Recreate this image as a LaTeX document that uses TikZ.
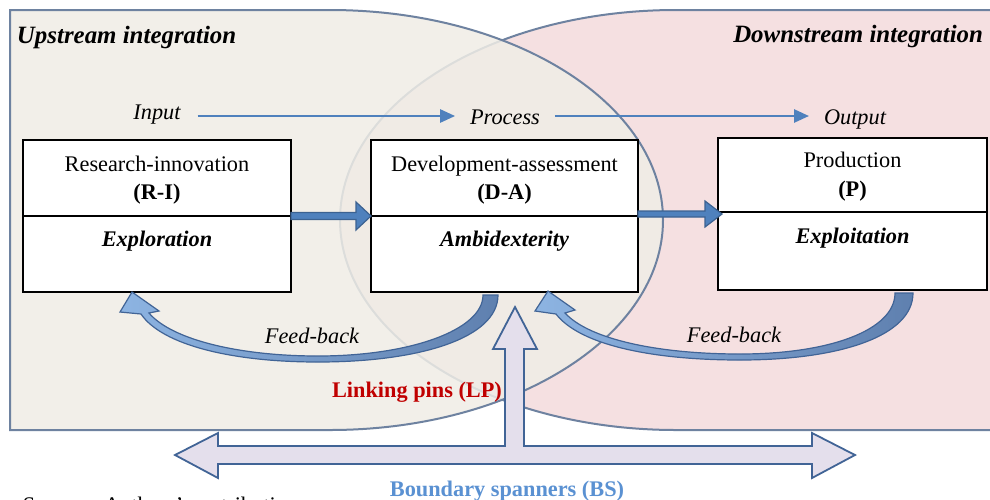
\documentclass[tikz,border=0pt]{standalone}
\usepackage{fontspec}
\setmainfont{Liberation Serif}
\usetikzlibrary{arrows.meta,calc}

\definecolor{beigefill}{RGB}{240,237,230}
\definecolor{pinkfill}{RGB}{245,224,225}
\definecolor{regionline}{RGB}{110,130,160}
\definecolor{flowblue}{RGB}{79,129,189}
\definecolor{flowdark}{RGB}{60,98,145}
\definecolor{fblight}{RGB}{141,180,226}
\definecolor{fbdark}{RGB}{95,128,175}
\definecolor{fbline}{RGB}{65,100,150}
\definecolor{spanfill}{RGB}{228,223,236}
\definecolor{spanline}{RGB}{65,100,150}
\definecolor{lpred}{RGB}{192,0,0}
\definecolor{bsblue}{RGB}{90,145,210}

\newcommand\diagsize{\fontsize{11.15}{13}\selectfont}
\newcommand\headsize{\fontsize{12.45}{14}\selectfont}

\begin{document}
\begin{tikzpicture}[x=0.5pt,y=-0.5pt,
  every node/.style={inner sep=0pt, outer sep=0pt},
  lbl/.style={font=\diagsize},
  lblbf/.style={font=\diagsize\bfseries},
  lblbi/.style={font=\diagsize\bfseries\itshape},
  lblit/.style={font=\diagsize\itshape},
  headline/.style={font=\headsize\bfseries\itshape},
  region/.style={draw=regionline, line width=1pt},
  box/.style={draw=black, line width=0.6pt, fill=white, anchor=north west,
              minimum height=76pt},
  divider/.style={draw=black, line width=0.6pt},
  flow/.style={draw=flowblue, line width=1.3pt,
               -{Triangle[length=7.5pt,width=6.5pt]}},
  blockarrow/.style={fill=flowblue, draw=flowdark, line width=0.6pt},
  feedback/.style={left color=fblight, right color=fbdark, draw=fbline,
                   line width=0.6pt},
  spanarrow/.style={fill=spanfill, draw=spanline, line width=0.9pt,
                    line join=miter}]

\path[use as bounding box, clip] (0,0) rectangle (990,499);
\fill[white] (0,0) rectangle (990,499);

% downstream region (rounded on its left side)
\path[region, fill=pinkfill] (990,10) -- (676,10)
  arc[start angle=-90, end angle=-270, x radius=336, y radius=210] -- (990,430);
% upstream region (rounded on its right side), laid over the other one
\path[region, fill=beigefill, fill opacity=0.85] (10,430) -- (10,10) -- (330,10)
  arc[start angle=-90, end angle=90, x radius=333, y radius=210] -- cycle;

% headings
\node[headline, anchor=base west] (up) at (17,43) {Upstream integration};
\node[headline, anchor=base east] (down) at (983,42) {Downstream integration};

% input / process / output row
\coordinate (flowrow) at (0,116);
\node[lblit, anchor=base] (in) at (157,119) {Input};
\node[lblit, anchor=base] (proc) at (505,124) {Process};
\node[lblit, anchor=base] (out) at (855,124) {Output};
\draw[flow, shorten <=8.5pt, shorten >=7.5pt] (in.east |- flowrow) -- (proc.west |- flowrow);
\draw[flow, shorten <=7.5pt, shorten >=7.5pt] (proc.east |- flowrow) -- (out.west |- flowrow);

% the three stages
\node[box, minimum width=134pt] (ri) at (23,140) {};
\node[box, minimum width=133.5pt] (da) at (371,140) {};
\node[box, minimum width=134.5pt] (pp) at (718,138) {};
\draw[divider] (ri.west) -- (ri.east);
\draw[divider] (da.west) -- (da.east);
\draw[divider] ([yshift=1pt]pp.west) -- ([yshift=1pt]pp.east);

\node[lbl, anchor=base] (ri1) at (157,171) {Research-innovation};
\node[lblbf, anchor=base] (ri2) at (157,199) {(R-I)};
\node[lblbi, anchor=base] (ri3) at (157,246) {Exploration};

\node[lbl, anchor=base] (da1) at (504.5,171) {Development-assessment};
\node[lblbf, anchor=base] (da2) at (504.5,199) {(D-A)};
\node[lblbi, anchor=base] (da3) at (504.5,246) {Ambidexterity};

\node[lbl, anchor=base] (pp1) at (852.5,167) {Production};
\node[lblbf, anchor=base] (pp2) at (852.5,196) {(P)};
\node[lblbi, anchor=base] (pp3) at (852.5,243) {Exploitation};

% block arrows between the stages
\draw[blockarrow] (ri.east) ++(0,-3.5) -- ++(65,0) -- ++(0,-10.5) -- (da.west)
  -- ++(-15,14) -- ++(0,-10.5) -- ++(-65,0) -- cycle;
\draw[blockarrow] (da.east |- pp.west) ++(0,-3) -- ++(67,0) -- ++(0,-10)
  -- ([xshift=2pt]pp.west) -- ++(-17,13) -- ++(0,-10) -- ++(-67,0) -- cycle;

% feed-back arrows
\path[feedback] (498,295) .. controls (498,338) and (420,362) .. (318,362)
  .. controls (232,362) and (162,345) .. (141,314)
  -- (120,312) -- (132,292) -- (159,311) -- (149,313)
  .. controls (172,340) and (240,356) .. (318,356)
  .. controls (410,356) and (483,330) .. (483,295) -- cycle;
\path[feedback] (913,293) .. controls (913,336) and (840,360) .. (740,360)
  .. controls (652,360) and (580,345) .. (556,314)
  -- (535,311) -- (548,291) -- (575,310) -- (565,313)
  .. controls (590,340) and (660,354) .. (740,354)
  .. controls (830,354) and (895,330) .. (895,293) -- cycle;
\node[lblit, anchor=base] (fb1) at (312,343) {Feed-back};
\node[lblit, anchor=base] (fb2) at (734,342) {Feed-back};

% boundary spanners and linking pins
\draw[spanarrow] (175,455) -- (218,433) -- (218,446) -- (505,446) -- (505,349)
  -- (493,349) -- (515,307) -- (537,349) -- (524,349) -- (524,446) -- (812,446)
  -- (812,433) -- (855,455) -- (812,478) -- (812,464) -- (218,464) -- (218,478)
  -- cycle;
\node[lblbf, anchor=base, text=lpred] (lp) at (417,397) {Linking pins (LP)};
\node[lblbf, anchor=base, text=bsblue] (bs) at (507,496) {Boundary spanners (BS)};
\node[lbl, anchor=base west] (src) at (23,512) {Source : Authors' contribution};
\end{tikzpicture}
\end{document}
